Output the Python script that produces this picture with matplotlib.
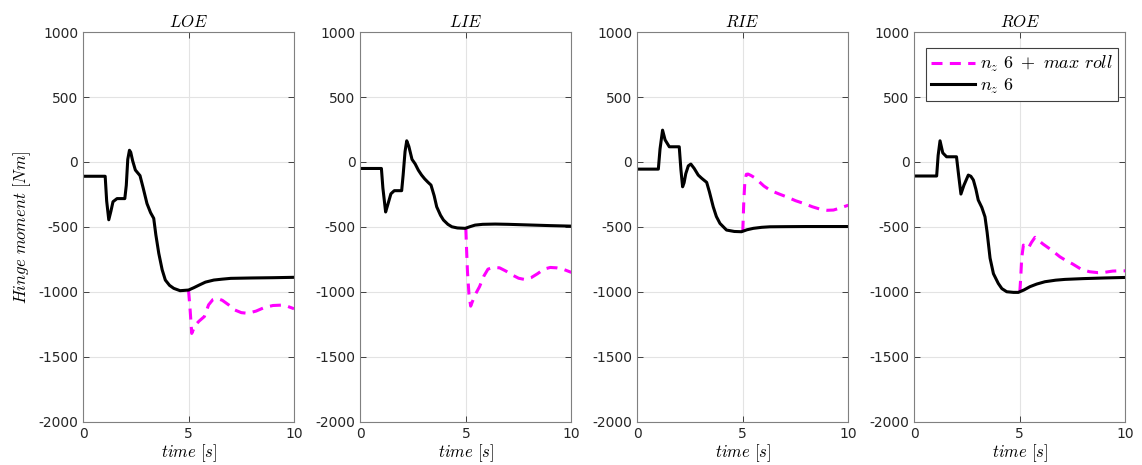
import matplotlib
matplotlib.use("Agg")
import matplotlib.pyplot as plt

plt.rcParams["font.family"] = "DejaVu Sans"
plt.rcParams["mathtext.fontset"] = "cm"
plt.rcParams["axes.unicode_minus"] = False

titles = ["$LOE$", "$LIE$", "$RIE$", "$ROE$"]

# n_z 6 (black)
loe_t = [0, 1.05, 1.12, 1.22, 1.32, 1.42, 1.61, 1.98, 2.05, 2.12, 2.2, 2.26, 2.35, 2.48, 2.7, 2.85, 3.03, 3.2, 3.35, 3.45, 3.59, 3.75, 3.9, 4.1, 4.3, 4.6, 5.0, 5.25, 5.5, 5.8, 6.2, 6.6, 7.0, 8.0, 9.0, 10.0]
loe_v = [-110, -110, -300, -445, -380, -306, -282, -282, -180, 20, 90, 75, 10, -62, -105, -200, -320, -390, -434, -560, -704, -830, -909, -950, -973, -991, -986, -968, -948, -925, -909, -902, -896, -893, -891, -888]

lie_t = [0, 1.0, 1.07, 1.2, 1.3, 1.45, 1.61, 1.96, 2.03, 2.12, 2.2, 2.3, 2.45, 2.6, 2.75, 2.9, 3.05, 3.2, 3.35, 3.5, 3.62, 3.8, 3.94, 4.15, 4.34, 4.6, 4.97, 5.2, 5.44, 5.8, 6.39, 7.0, 8.0, 9.0, 10.0]
lie_v = [-50, -50, -200, -385, -330, -245, -221, -221, -100, 80, 163, 120, 20, -15, -63, -100, -130, -155, -178, -260, -345, -410, -447, -480, -499, -508, -511, -498, -486, -480, -478, -480, -485, -490, -494]

rie_t = [0, 1.0, 1.08, 1.2, 1.32, 1.52, 1.99, 2.07, 2.15, 2.22, 2.3, 2.42, 2.54, 2.7, 2.89, 3.05, 3.29, 3.42, 3.6, 3.75, 3.92, 4.23, 4.6, 4.94, 5.2, 5.5, 5.9, 6.29, 7.0, 8.0, 9.0, 10.0]
rie_v = [-55, -55, 100, 245, 170, 117, 117, -60, -191, -160, -90, -30, -16, -50, -101, -125, -157, -230, -345, -420, -473, -524, -535, -537, -522, -511, -503, -499, -498, -497, -497, -497]

roe_t = [0, 1.06, 1.13, 1.22, 1.35, 1.53, 2.0, 2.1, 2.21, 2.35, 2.56, 2.68, 2.8, 2.92, 3.03, 3.2, 3.35, 3.45, 3.59, 3.75, 3.98, 4.15, 4.38, 4.7, 4.93, 5.2, 5.48, 5.8, 6.19, 6.7, 7.14, 8.0, 9.0, 10.0]
roe_v = [-108, -108, 50, 163, 70, 40, 40, -100, -247, -180, -101, -110, -139, -210, -293, -350, -422, -540, -740, -860, -935, -975, -999, -1004, -1004, -985, -960, -940, -922, -910, -904, -898, -893, -889]

# n_z 6 + max roll (magenta), departs at t = 5 s
loe_roll_t = [5.0, 5.08, 5.15, 5.32, 5.5, 5.75, 5.95, 6.15, 6.35, 6.6, 6.9, 7.2, 7.5, 7.8, 8.2, 8.6, 9.0, 9.4, 9.7, 10.0]
loe_roll_v = [-988, -1150, -1320, -1256, -1225, -1190, -1100, -1060, -1050, -1065, -1100, -1140, -1160, -1165, -1148, -1120, -1105, -1102, -1112, -1130]

lie_roll_t = [5.0, 5.03, 5.08, 5.15, 5.23, 5.3, 5.45, 5.65, 5.85, 6.05, 6.3, 6.6, 6.9, 7.2, 7.5, 7.8, 8.1, 8.4, 8.7, 9.0, 9.3, 9.6, 10.0]
lie_roll_v = [-513, -650, -850, -1020, -1110, -1080, -1020, -960, -880, -825, -812, -815, -840, -870, -895, -905, -890, -860, -825, -812, -815, -825, -850]

rie_roll_t = [5.0, 5.05, 5.1, 5.17, 5.25, 5.4, 5.6, 5.8, 6.0, 6.3, 6.7, 7.1, 7.5, 7.9, 8.3, 8.7, 9.0, 9.3, 9.6, 10.0]
rie_roll_v = [-537, -300, -150, -95, -93, -105, -125, -155, -185, -218, -245, -270, -298, -320, -345, -365, -372, -370, -355, -333]

roe_roll_t = [5.0, 5.04, 5.09, 5.17, 5.28, 5.4, 5.55, 5.72, 5.9, 6.1, 6.5, 6.9, 7.2, 7.5, 7.9, 8.3, 8.7, 9.0, 9.4, 9.7, 10.0]
roe_roll_v = [-1000, -900, -740, -640, -650, -665, -620, -580, -605, -632, -678, -730, -760, -785, -825, -845, -852, -850, -840, -838, -838]

base_t = [loe_t, lie_t, rie_t, roe_t]
base_v = [loe_v, lie_v, rie_v, roe_v]
roll_t = [loe_roll_t, lie_roll_t, rie_roll_t, roe_roll_t]
roll_v = [loe_roll_v, lie_roll_v, rie_roll_v, roe_roll_v]

fig = plt.figure(figsize=(11.42, 4.65), dpi=100)
lefts = [0.0727, 0.3155, 0.558, 0.8006]

for i in range(4):
    ax = fig.add_axes([lefts[i], 0.093, 0.1848, 0.838])
    ax.plot(roll_t[i], roll_v[i], color="#ff00ff", lw=2.2, linestyle=(0, (3.6, 2.4)),
            label=r"$n_z\ 6\ +\ max\ roll$")
    ax.plot(base_t[i], base_v[i], color="black", lw=2.2, label=r"$n_z\ 6$")
    ax.set_xlim(0, 10)
    ax.set_ylim(-2000, 1000)
    ax.set_xticks([0, 5, 10])
    ax.set_yticks(range(-2000, 1001, 500))
    ax.grid(True, color="#e3e3e3", lw=0.8)
    ax.set_axisbelow(True)
    ax.tick_params(direction="in", top=True, right=True, labelsize=10,
                   colors="#262626", length=4, width=0.6)
    for s in ax.spines.values():
        s.set_color("#808080")
        s.set_linewidth(0.8)
    ax.set_title(titles[i], fontsize=12, pad=4)
    ax.set_xlabel(r"$time\ [s]$", fontsize=12, labelpad=1)
    if i == 0:
        ax.set_ylabel(r"$Hinge\ moment\ [Nm]$", fontsize=12, labelpad=4)
    if i == 3:
        leg = ax.legend(loc="upper right", bbox_to_anchor=(0.967, 0.958), borderaxespad=0,
                        fontsize=13, fancybox=False, framealpha=1, edgecolor="#404040",
                        handlelength=2.4, handletextpad=0.3, borderpad=0.3, labelspacing=0.15)
        leg.get_frame().set_linewidth(0.8)

fig.savefig("out.png", dpi=100)
